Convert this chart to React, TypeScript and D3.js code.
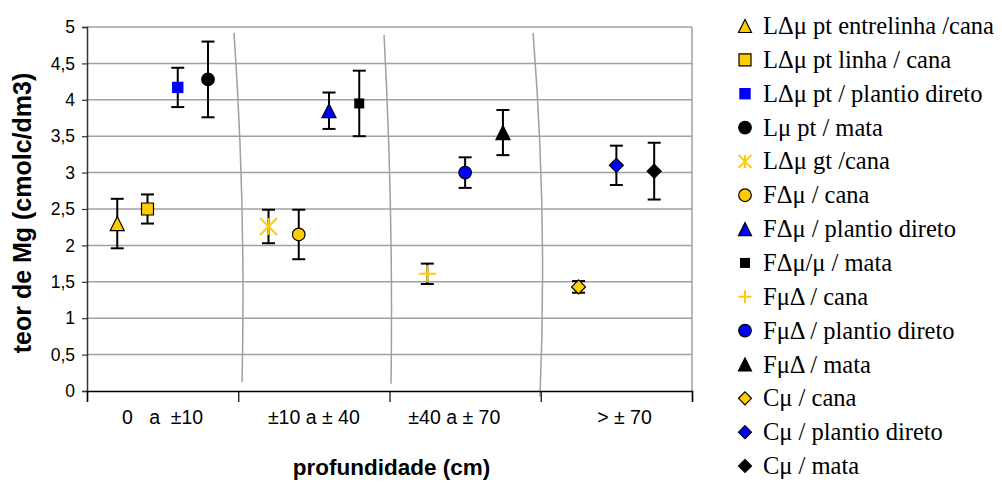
import { useEffect, useRef } from 'react';
import * as d3 from 'd3';

// depth classes on the x axis (spaces kept as in the source sheet)
const categories = ['0   a  ±10', '±10 a ± 40', '±40 a ± 70    ', '   > ± 70'];
const yTicks = [0, 0.5, 1, 1.5, 2, 2.5, 3, 3.5, 4, 4.5, 5];

const seriesNames = [
  'LΔμ pt entrelinha /cana',
  'LΔμ pt linha / cana',
  'LΔμ pt / plantio direto',
  'Lμ pt / mata',
  'LΔμ gt /cana',
  'FΔμ / cana',
  'FΔμ / plantio direto',
  'FΔμ/μ / mata',
  'FμΔ / cana',
  'FμΔ / plantio direto',
  'FμΔ / mata',
  'Cμ / cana',
  'Cμ / plantio direto',
  'Cμ / mata',
];
// x in category units (0..4), as in the xy sheet
const seriesX = [0.2, 0.4, 0.6, 0.8, 1.2, 1.4, 1.6, 1.8, 2.25, 2.5, 2.75, 3.25, 3.5, 3.75];
const seriesMean = [2.3, 2.5, 4.17, 4.28, 2.26, 2.15, 3.85, 3.95, 1.61, 3.0, 3.55, 1.43, 3.1, 3.02];
const seriesErr = [0.34, 0.2, 0.27, 0.52, 0.23, 0.34, 0.25, 0.45, 0.14, 0.21, 0.31, 0.08, 0.27, 0.39];

// hand drawn separators between the depth classes: [x0, y0, cx, cy, x1, y1] in data units
const separators = [
  [0.972, 4.92, 1.051, 2.54, 1.025, 0.12],
  [1.964, 4.89, 2.026, 2.48, 2.01, 0.1],
  [2.949, 4.92, 3.045, 2.42, 2.995, -0.08],
];

const YELLOW = '#FFCC00';
const BLUE = '#0000FF';
const BLACK = '#000000';

type Marker = { shape: string; fill: string; stroke: string; r: number };

const markers: Marker[] = [
  { shape: 'triangle', fill: YELLOW, stroke: BLACK, r: 7 },
  { shape: 'square', fill: YELLOW, stroke: BLACK, r: 6 },
  { shape: 'square', fill: BLUE, stroke: 'none', r: 5.7 },
  { shape: 'circle', fill: BLACK, stroke: BLACK, r: 6.3 },
  { shape: 'asterisk', fill: 'none', stroke: YELLOW, r: 8.5 },
  { shape: 'circle', fill: YELLOW, stroke: BLACK, r: 6.3 },
  { shape: 'triangle', fill: BLUE, stroke: BLACK, r: 7 },
  { shape: 'square', fill: BLACK, stroke: 'none', r: 5 },
  { shape: 'plus', fill: 'none', stroke: YELLOW, r: 8.5 },
  { shape: 'circle', fill: BLUE, stroke: BLACK, r: 6.3 },
  { shape: 'triangle', fill: BLACK, stroke: BLACK, r: 7 },
  { shape: 'diamond', fill: YELLOW, stroke: BLACK, r: 7 },
  { shape: 'diamond', fill: BLUE, stroke: BLACK, r: 7 },
  { shape: 'diamond', fill: BLACK, stroke: BLACK, r: 7 },
];

function markerPath(shape: string, r: number) {
  const p = d3.path();
  if (shape === 'triangle') {
    p.moveTo(0, -r); p.lineTo(r, r); p.lineTo(-r, r); p.closePath();
  } else if (shape === 'square') {
    p.rect(-r, -r, 2 * r, 2 * r);
  } else if (shape === 'circle') {
    p.arc(0, 0, r, 0, 2 * Math.PI);
  } else if (shape === 'diamond') {
    p.moveTo(0, -r); p.lineTo(r, 0); p.lineTo(0, r); p.lineTo(-r, 0); p.closePath();
  } else if (shape === 'asterisk') {
    p.moveTo(-r, -r); p.lineTo(r, r);
    p.moveTo(-r, r); p.lineTo(r, -r);
    p.moveTo(0, -r); p.lineTo(0, r);
  } else if (shape === 'plus') {
    p.moveTo(-r, 0); p.lineTo(r, 0);
    p.moveTo(0, -r); p.lineTo(0, r);
  }
  return p.toString();
}

const WIDTH = 1002;
const HEIGHT = 483;
const SANS = '"Liberation Sans", Arial, sans-serif';
const SERIF = '"Liberation Serif", "Times New Roman", serif';

export default function App() {
  const svgRef = useRef<SVGSVGElement>(null);

  useEffect(() => {
    if (!svgRef.current) return;
    const svg = d3.select(svgRef.current);
    svg.selectAll('*').remove();

    const plot = { left: 87, right: 692, top: 27, bottom: 391 };

    const x = d3.scaleLinear().domain([0, categories.length]).range([plot.left, plot.right]);
    const y = d3.scaleLinear().domain([0, 5]).range([plot.bottom, plot.top]);

    // grid
    svg.append('g')
      .selectAll('line')
      .data(yTicks.filter(d => d > 0))
      .join('line')
      .attr('x1', plot.left)
      .attr('x2', plot.right)
      .attr('y1', d => y(d))
      .attr('y2', d => y(d))
      .attr('stroke', '#a0a0a0')
      .attr('stroke-width', 1.5);

    svg.append('line')
      .attr('x1', plot.right).attr('x2', plot.right)
      .attr('y1', plot.top).attr('y2', plot.bottom)
      .attr('stroke', '#a0a0a0')
      .attr('stroke-width', 1.5);

    // separators
    svg.append('g')
      .selectAll('path')
      .data(separators)
      .join('path')
      .attr('d', s => {
        const p = d3.path();
        p.moveTo(x(s[0]), y(s[1]));
        p.quadraticCurveTo(x(s[2]), y(s[3]), x(s[4]), y(s[5]));
        return p.toString();
      })
      .attr('fill', 'none')
      .attr('stroke', '#a0a0a0')
      .attr('stroke-width', 1.5);

    // y axis
    const yAxis = svg.append('g')
      .attr('transform', `translate(${plot.left},0)`)
      .call(d3.axisLeft(y).tickValues(yTicks).tickSize(5).tickPadding(7)
        .tickFormat(d => String(d).replace('.', ',')));
    yAxis.select('.domain').attr('stroke', '#333').attr('stroke-width', 1.5);
    yAxis.selectAll('.tick line').attr('stroke', '#333').attr('stroke-width', 1.2);
    yAxis.selectAll('text')
      .attr('font-family', SANS)
      .attr('font-size', 17.5)
      .attr('fill', '#000');

    // x axis
    const xAxis = svg.append('g')
      .attr('transform', `translate(0,${plot.bottom})`)
      .call(d3.axisBottom(x).tickValues(d3.range(categories.length + 1)).tickSize(11).tickFormat(() => ''));
    xAxis.select('.domain').attr('stroke', '#000').attr('stroke-width', 1.5);
    xAxis.selectAll('.tick line').attr('stroke', '#000').attr('stroke-width', 1.2);

    svg.append('g')
      .selectAll('text')
      .data(categories)
      .join('text')
      .attr('x', (_, i) => x(i + 0.5))
      .attr('y', plot.bottom + 33)
      .attr('text-anchor', 'middle')
      .attr('font-family', SANS)
      .attr('font-size', 19.5)
      .style('white-space', 'pre')
      .text(d => d);

    // axis titles
    svg.append('text')
      .attr('transform', 'rotate(-90)')
      .attr('x', -213)
      .attr('y', 22)
      .attr('dy', '0.35em')
      .attr('text-anchor', 'middle')
      .attr('font-family', SANS)
      .attr('font-weight', 'bold')
      .attr('font-size', 25)
      .text('teor de Mg (cmolc/dm3)');

    svg.append('text')
      .attr('x', (plot.left + plot.right) / 2 + 2)
      .attr('y', 475)
      .attr('text-anchor', 'middle')
      .attr('font-family', SANS)
      .attr('font-weight', 'bold')
      .attr('font-size', 22.5)
      .text('profundidade (cm)');

    // error bars
    const capHalf = 6.5;
    const bars = svg.append('g')
      .selectAll('g')
      .data(seriesNames.map((_, i) => i))
      .join('g')
      .attr('stroke', '#000')
      .attr('stroke-width', 2);
    bars.append('line')
      .attr('x1', i => x(seriesX[i])).attr('x2', i => x(seriesX[i]))
      .attr('y1', i => y(seriesMean[i] + seriesErr[i]))
      .attr('y2', i => y(seriesMean[i] - seriesErr[i]));
    bars.append('line')
      .attr('x1', i => x(seriesX[i]) - capHalf).attr('x2', i => x(seriesX[i]) + capHalf)
      .attr('y1', i => y(seriesMean[i] + seriesErr[i]))
      .attr('y2', i => y(seriesMean[i] + seriesErr[i]));
    bars.append('line')
      .attr('x1', i => x(seriesX[i]) - capHalf).attr('x2', i => x(seriesX[i]) + capHalf)
      .attr('y1', i => y(seriesMean[i] - seriesErr[i]))
      .attr('y2', i => y(seriesMean[i] - seriesErr[i]));

    // markers
    svg.append('g')
      .selectAll('path')
      .data(seriesNames.map((_, i) => i))
      .join('path')
      .attr('transform', i => `translate(${x(seriesX[i])},${y(seriesMean[i])})`)
      .attr('d', i => markerPath(markers[i].shape, markers[i].r))
      .attr('fill', i => markers[i].fill)
      .attr('stroke', i => markers[i].stroke)
      .attr('stroke-width', i => (markers[i].fill === 'none' ? 2 : 1.2));

    // legend
    const ly = d3.scalePoint<string>().domain(seriesNames).range([26, 466]);
    const legend = svg.append('g')
      .selectAll('g')
      .data(seriesNames)
      .join('g')
      .attr('transform', d => `translate(745,${ly(d)})`);
    legend.append('path')
      .attr('d', (_, i) => markerPath(markers[i].shape, Math.min(markers[i].r, 6.5)))
      .attr('fill', (_, i) => markers[i].fill)
      .attr('stroke', (_, i) => markers[i].stroke)
      .attr('stroke-width', (_, i) => (markers[i].fill === 'none' ? 2 : 1.2));
    legend.append('text')
      .attr('x', 18)
      .attr('dy', '0.33em')
      .attr('font-family', SERIF)
      .attr('font-size', 24.5)
      .attr('fill', '#000')
      .text(d => d);
  }, []);

  return (
    <div style={{ position: 'absolute', left: 0, top: 0 }}>
      <svg ref={svgRef} width={WIDTH} height={HEIGHT} style={{ display: 'block', background: '#fff' }} />
    </div>
  );
}
